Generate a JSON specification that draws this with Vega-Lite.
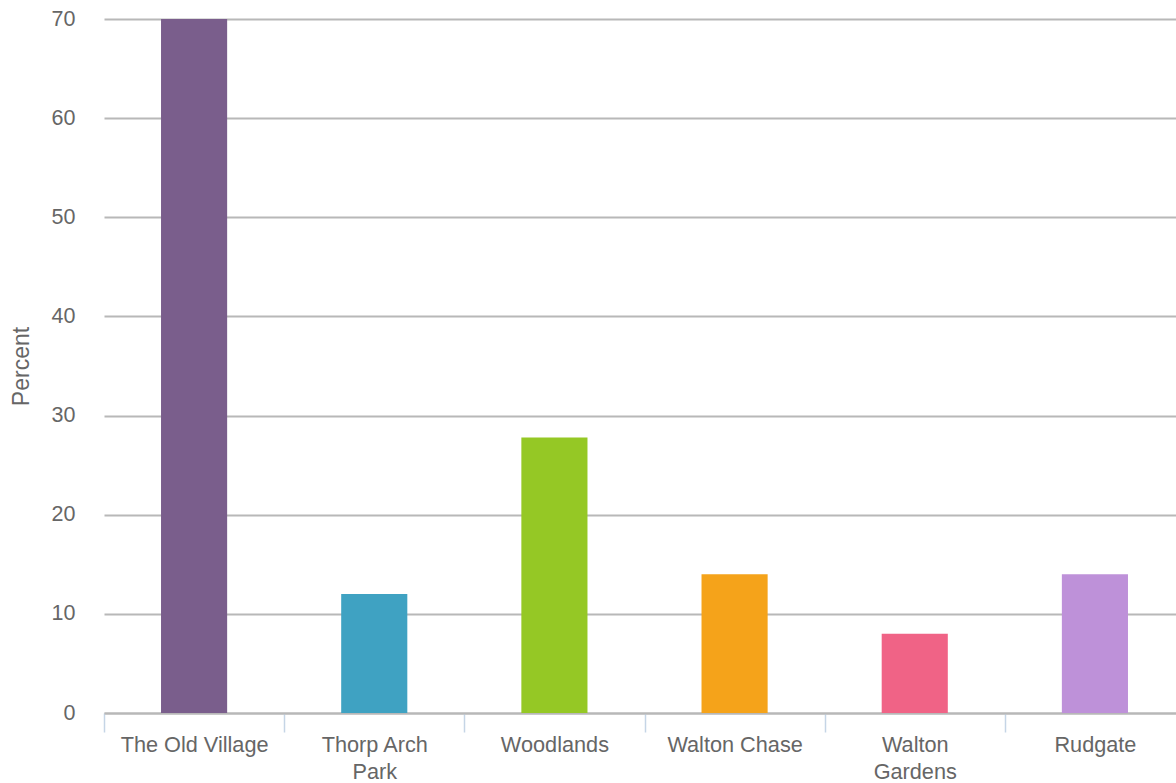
{
  "$schema": "https://vega.github.io/schema/vega-lite/v6.json",
  "width": 1081,
  "height": 694,
  "autosize": {"type": "none"},
  "padding": {"left": 104, "top": 19, "right": 0, "bottom": 70},
  "background": "white",
  "config": {
    "view": {"stroke": null},
    "font": "Liberation Sans",
    "axis": {"labelFont": "Liberation Sans", "titleFont": "Liberation Sans"}
  },
  "data": {
    "values": [
      {"area": "The Old Village", "percent": 70},
      {"area": "Thorp Arch Park", "percent": 12},
      {"area": "Woodlands", "percent": 27.8},
      {"area": "Walton Chase", "percent": 14},
      {"area": "Walton Gardens", "percent": 8},
      {"area": "Rudgate", "percent": 14}
    ]
  },
  "mark": {"type": "bar", "width": {"band": 0.367}},
  "encoding": {
    "x": {
      "field": "area",
      "type": "nominal",
      "sort": null,
      "scale": {"paddingInner": 0, "paddingOuter": 0},
      "axis": {
        "title": null,
        "labelAngle": 0,
        "labelFontSize": 21.7,
        "labelColor": "#666666",
        "labelLimit": 0,
        "labelPadding": 2,
        "labelLineHeight": 27,
        "labelExpr": "datum.label == 'Thorp Arch Park' ? ['Thorp Arch', 'Park'] : datum.label == 'Walton Gardens' ? ['Walton', 'Gardens'] : datum.label",
        "tickBand": "extent",
        "tickSize": 19,
        "tickWidth": 1.5,
        "tickColor": "#c5d5e6",
        "domain": true,
        "domainColor": "#b8b8b8",
        "domainWidth": 2,
        "grid": false
      }
    },
    "y": {
      "field": "percent",
      "type": "quantitative",
      "scale": {"domain": [0, 70], "nice": false},
      "axis": {
        "title": "Percent",
        "titleFontSize": 23,
        "titleFontWeight": "normal",
        "titleColor": "#666666",
        "titlePadding": 18,
        "values": [0, 10, 20, 30, 40, 50, 60, 70],
        "labelFontSize": 21.5,
        "labelColor": "#666666",
        "labelPadding": 29,
        "ticks": false,
        "domain": false,
        "grid": true,
        "gridColor": "#b8b8b8",
        "gridWidth": 2
      }
    },
    "color": {
      "field": "area",
      "type": "nominal",
      "sort": null,
      "legend": null,
      "scale": {
        "domain": ["The Old Village", "Thorp Arch Park", "Woodlands", "Walton Chase", "Walton Gardens", "Rudgate"],
        "range": ["#7a5e8c", "#3fa2c2", "#95c825", "#f5a31a", "#f06386", "#be91d9"]
      }
    }
  }
}
